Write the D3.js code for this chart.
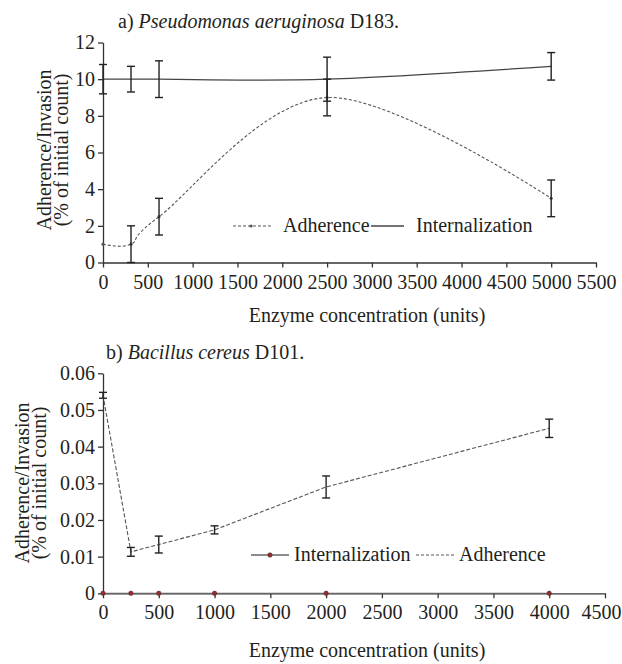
<!DOCTYPE html>
<html>
<head>
<meta charset="utf-8">
<script src="https://cdn.jsdelivr.net/npm/d3@7"></script>
<style>
  body { margin: 0; background: #fff; }
  svg text { font-family: "Liberation Serif", "DejaVu Serif", serif; fill: #231f20; }
</style>
</head>
<body>
<script>
// ---------- data : panel a (Pseudomonas aeruginosa D183) ----------
var aDose = [0, 312.5, 625, 2500, 5000];
var aInternal = [10, 10, 10, 10, 10.7];
var aInternalErr = [0.8, 0.7, 1.0, 1.2, 0.75];
var aAdher = [1, 1, 2.5, 9, 3.5];
var aAdherErr = [0, 1, 1, 1, 1];
var aXTicks = [0, 500, 1000, 1500, 2000, 2500, 3000, 3500, 4000, 4500, 5000, 5500];
var aYTicks = [0, 2, 4, 6, 8, 10, 12];

// ---------- data : panel b (Bacillus cereus D101) ----------
var bDose = [0, 250, 500, 1000, 2000, 4000];
var bInternal = [0, 0, 0, 0, 0, 0];
var bAdher = [0.054, 0.0113, 0.0133, 0.0173, 0.029, 0.045];
var bAdherErr = [0.0008, 0.0012, 0.0023, 0.0011, 0.003, 0.0025];
var bXTicks = [0, 500, 1000, 1500, 2000, 2500, 3000, 3500, 4000, 4500];
var bYTicks = [0, 0.01, 0.02, 0.03, 0.04, 0.05, 0.06];

var width = 622, height = 664;
var fontSize = 20;
var serif = "'Liberation Serif', 'DejaVu Serif', serif";
var axisColor = "#333";
var lineColor = "#555";
var errColor = "#222";

var svg = d3.select("body").append("svg")
    .attr("width", width)
    .attr("height", height)
    .style("font-family", serif);

//*********************** scales ***********************
var xA = d3.scaleLinear().domain([0, 5500]).range([103, 596]);
var yA = d3.scaleLinear().domain([0, 12]).range([262.5, 42.5]);
var xB = d3.scaleLinear().domain([0, 4500]).range([103, 605]);
var yB = d3.scaleLinear().domain([0, 0.06]).range([593.3, 373.3]);

function styleAxis(g) {
  g.attr("font-family", null).attr("font-size", null);
  g.select(".domain").attr("stroke", axisColor).attr("stroke-width", 1.3);
  g.selectAll(".tick line").attr("stroke", axisColor).attr("stroke-width", 1.3);
  g.selectAll(".tick text")
    .attr("fill", "#231f20")
    .style("font-family", serif)
    .style("font-size", fontSize + "px");
}

function drawAxes(x, y, xTicks, yTicks, yFmt) {
  var gx = svg.append("g")
      .attr("transform", "translate(0," + y.range()[0] + ")")
      .call(d3.axisBottom(x).tickValues(xTicks).tickSize(5).tickSizeOuter(0).tickPadding(7).tickFormat(d3.format("d")));
  styleAxis(gx);
  var gy = svg.append("g")
      .attr("transform", "translate(" + x.range()[0] + ",0)")
      .call(d3.axisLeft(y).tickValues(yTicks).tickSize(5).tickSizeOuter(0).tickPadding(3).tickFormat(yFmt));
  styleAxis(gy);
  return gx;
}

function errorBars(x, y, xs, ys, es) {
  var cap = 4;
  var g = svg.append("g").attr("stroke", errColor).attr("stroke-width", 1.4);
  xs.forEach(function(d, i) {
    if (!es[i]) return;
    var cx = x(d), y1 = y(ys[i] - es[i]), y2 = y(ys[i] + es[i]);
    g.append("line").attr("x1", cx).attr("x2", cx).attr("y1", y1).attr("y2", y2);
    g.append("line").attr("x1", cx - cap).attr("x2", cx + cap).attr("y1", y1).attr("y2", y1);
    g.append("line").attr("x1", cx - cap).attr("x2", cx + cap).attr("y1", y2).attr("y2", y2);
  });
}

function yLabel(cx1, cx2, cy) {
  var t = svg.append("text")
      .attr("transform", "translate(" + cx1 + "," + cy + ") rotate(-90)")
      .attr("text-anchor", "middle")
      .style("font-size", fontSize + "px");
  t.append("tspan").attr("x", 0).attr("y", 0).text("Adherence/Invasion");
  t.append("tspan").attr("x", 0).attr("y", cx2 - cx1).text("(% of initial count)");
}

//*********************** panel a ***********************
var ta = svg.append("text").attr("x", 118).attr("y", 28).style("font-size", fontSize + "px");
ta.append("tspan").text("a) ");
ta.append("tspan").style("font-style", "italic").text("Pseudomonas aeruginosa");
ta.append("tspan").text(" D183.");

drawAxes(xA, yA, aXTicks, aYTicks, d3.format("d"));

// internalization, smoothed solid line
svg.append("path")
    .datum(aDose)
    .attr("fill", "none")
    .attr("stroke", "#444")
    .attr("stroke-width", 1.3)
    .attr("d", d3.line().curve(d3.curveCardinal)
        .x(function(d) { return xA(d); })
        .y(function(d, i) { return yA(aInternal[i]); }));

// adherence, smoothed dashed line
svg.append("path")
    .datum(aDose)
    .attr("fill", "none")
    .attr("stroke", lineColor)
    .attr("stroke-width", 1.1)
    .attr("stroke-dasharray", "3,2")
    .attr("d", d3.line().curve(d3.curveCardinal)
        .x(function(d) { return xA(d); })
        .y(function(d, i) { return yA(aAdher[i]); }));

svg.append("g").selectAll("circle")
    .data(aDose)
    .enter().append("circle")
    .attr("cx", function(d) { return xA(d); })
    .attr("cy", function(d, i) { return yA(aAdher[i]); })
    .attr("r", 1.6)
    .attr("fill", lineColor);

errorBars(xA, yA, aDose, aInternal, aInternalErr);
errorBars(xA, yA, aDose, aAdher, aAdherErr);

// legend a
var la = svg.append("g");
la.append("line").attr("x1", 233).attr("x2", 272).attr("y1", 226).attr("y2", 226)
    .attr("stroke", lineColor).attr("stroke-width", 1.1).attr("stroke-dasharray", "3,2");
la.append("circle").attr("cx", 251).attr("cy", 226).attr("r", 1.6).attr("fill", lineColor);
la.append("text").attr("x", 283).attr("y", 232).style("font-size", fontSize + "px").text("Adherence");
la.append("line").attr("x1", 371).attr("x2", 404).attr("y1", 226).attr("y2", 226)
    .attr("stroke", "#444").attr("stroke-width", 1.3);
la.append("text").attr("x", 416).attr("y", 232).style("font-size", fontSize + "px").text("Internalization");

svg.append("text").attr("x", 367).attr("y", 322).attr("text-anchor", "middle")
    .style("font-size", fontSize + "px").text("Enzyme concentration (units)");
yLabel(51, 68, 150);

//*********************** panel b ***********************
var tb = svg.append("text").attr("x", 106).attr("y", 359).style("font-size", fontSize + "px");
tb.append("tspan").text("b) ");
tb.append("tspan").style("font-style", "italic").text("Bacillus cereus");
tb.append("tspan").text(" D101.");

var gxB = drawAxes(xB, yB, bXTicks, bYTicks, function(d) { return d === 0 ? "0" : d3.format(".2f")(d); });
// keep the last tick label inside the page
gxB.selectAll(".tick text").filter(function(d) { return d === 4500; }).attr("dx", -4);

// adherence, straight dashed line
svg.append("path")
    .datum(bDose)
    .attr("fill", "none")
    .attr("stroke", lineColor)
    .attr("stroke-width", 1.1)
    .attr("stroke-dasharray", "4,2")
    .attr("d", d3.line()
        .x(function(d) { return xB(d); })
        .y(function(d, i) { return yB(bAdher[i]); }));

errorBars(xB, yB, bDose, bAdher, bAdherErr);

// internalization on the baseline
svg.append("path")
    .datum(bDose)
    .attr("fill", "none")
    .attr("stroke", "#666")
    .attr("stroke-width", 1.3)
    .attr("d", d3.line()
        .x(function(d) { return xB(d); })
        .y(function(d, i) { return yB(bInternal[i]); }));

svg.append("g").selectAll("circle")
    .data(bDose)
    .enter().append("circle")
    .attr("cx", function(d) { return xB(d); })
    .attr("cy", function(d, i) { return yB(bInternal[i]); })
    .attr("r", 2.2)
    .attr("fill", "#9b2c2c")
    .attr("stroke", "#4a2a2a")
    .attr("stroke-width", 0.6);

// legend b
var lb = svg.append("g");
lb.append("line").attr("x1", 251).attr("x2", 289).attr("y1", 555).attr("y2", 555)
    .attr("stroke", "#666").attr("stroke-width", 1.3);
lb.append("circle").attr("cx", 270).attr("cy", 555).attr("r", 2.2)
    .attr("fill", "#9b2c2c").attr("stroke", "#4a2a2a").attr("stroke-width", 0.6);
lb.append("text").attr("x", 294).attr("y", 561).style("font-size", fontSize + "px").text("Internalization");
lb.append("line").attr("x1", 416).attr("x2", 456).attr("y1", 555).attr("y2", 555)
    .attr("stroke", lineColor).attr("stroke-width", 1.1).attr("stroke-dasharray", "3,2");
lb.append("text").attr("x", 459).attr("y", 561).style("font-size", fontSize + "px").text("Adherence");

svg.append("text").attr("x", 367).attr("y", 657).attr("text-anchor", "middle")
    .style("font-size", fontSize + "px").text("Enzyme concentration (units)");
yLabel(29, 46, 483);
</script>
</body>
</html>
